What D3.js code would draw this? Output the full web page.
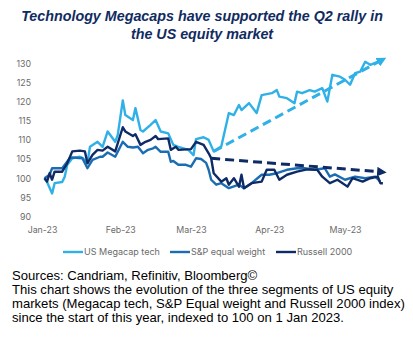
<!doctype html>
<html>
  <head>
    <meta charset="utf-8">
    <title>US equity segments 2023</title>
    <script src="https://cdnjs.cloudflare.com/ajax/libs/d3/7.8.5/d3.min.js"></script>
    <style>
      body { margin: 0; background: #fff; }
      svg { display: block; }
    </style>
  </head>
  <body>
    <div id="chart"></div>
    <script>
      // index levels, 1 Jan 2023 = 100
      const megacap = [
        ["2023-01-02", 100], ["2023-01-03", 99], ["2023-01-05", 96], ["2023-01-06", 98.7],
        ["2023-01-09", 99], ["2023-01-10", 100.4], ["2023-01-11", 103.5], ["2023-01-13", 105.2],
        ["2023-01-16", 105.6], ["2023-01-17", 105.3], ["2023-01-19", 104], ["2023-01-20", 108.2],
        ["2023-01-23", 109.5], ["2023-01-25", 108.2], ["2023-01-27", 112.2], ["2023-01-30", 109.5],
        ["2023-01-31", 111.3], ["2023-02-02", 120.3], ["2023-02-03", 116.5], ["2023-02-06", 115.2],
        ["2023-02-07", 118.3], ["2023-02-09", 112.6], ["2023-02-10", 112.2], ["2023-02-13", 113.9],
        ["2023-02-15", 115.2], ["2023-02-17", 112.2], ["2023-02-20", 111.7], ["2023-02-22", 108.7],
        ["2023-02-24", 108.2], ["2023-02-28", 107.4], ["2023-03-02", 106], ["2023-03-03", 110.2],
        ["2023-03-06", 110.7], ["2023-03-08", 110], ["2023-03-10", 107], ["2023-03-13", 108.3],
        ["2023-03-16", 117], ["2023-03-18", 116.5], ["2023-03-20", 119.1], ["2023-03-21", 117.8],
        ["2023-03-24", 119.6], ["2023-03-27", 117], ["2023-03-29", 121.7], ["2023-04-02", 122.2],
        ["2023-04-04", 123], ["2023-04-05", 121.3], ["2023-04-08", 120.9], ["2023-04-11", 119.6],
        ["2023-04-12", 122.6], ["2023-04-14", 122.2], ["2023-04-17", 123], ["2023-04-19", 122.6],
        ["2023-04-22", 123.5], ["2023-04-24", 120], ["2023-04-26", 127], ["2023-04-29", 126.5],
        ["2023-05-01", 125.7], ["2023-05-03", 124.4], ["2023-05-05", 127.4], ["2023-05-07", 127.8],
        ["2023-05-09", 130.4], ["2023-05-11", 129.6], ["2023-05-14", 130.4], ["2023-05-15", 131]
      ];

      const spEqual = [
        ["2023-01-02", 100], ["2023-01-04", 100.9], ["2023-01-05", 102.6], ["2023-01-09", 102.6],
        ["2023-01-12", 105.2], ["2023-01-13", 105.4], ["2023-01-17", 105.2], ["2023-01-19", 102.6],
        ["2023-01-21", 104.8], ["2023-01-24", 105.6], ["2023-01-25", 105.6], ["2023-01-27", 106.7],
        ["2023-01-30", 105.6], ["2023-02-02", 109.5], ["2023-02-04", 108.2], ["2023-02-06", 108],
        ["2023-02-08", 108.2], ["2023-02-10", 106.5], ["2023-02-12", 107.4], ["2023-02-14", 107.8],
        ["2023-02-15", 108.2], ["2023-02-17", 106.9], ["2023-02-20", 106.9], ["2023-02-21", 104.3],
        ["2023-02-22", 104.5], ["2023-02-24", 103.5], ["2023-02-27", 103.5], ["2023-03-01", 103],
        ["2023-03-03", 105.2], ["2023-03-05", 105], ["2023-03-07", 104], ["2023-03-08", 102.2],
        ["2023-03-09", 99.6], ["2023-03-11", 98.3], ["2023-03-13", 98.7], ["2023-03-16", 97.4],
        ["2023-03-20", 98.3], ["2023-03-22", 97.4], ["2023-03-25", 98.7], ["2023-03-29", 100.9],
        ["2023-04-01", 100.9], ["2023-04-04", 101.3], ["2023-04-08", 102.2], ["2023-04-12", 102.6],
        ["2023-04-15", 102.6], ["2023-04-19", 102.2], ["2023-04-23", 102.6], ["2023-04-25", 100.4],
        ["2023-04-27", 101], ["2023-05-01", 99.6], ["2023-05-05", 100.4], ["2023-05-09", 100],
        ["2023-05-13", 100.4], ["2023-05-15", 99.1]
      ];

      const russell = [
        ["2023-01-02", 100], ["2023-01-03", 99.1], ["2023-01-04", 101.3], ["2023-01-05", 99.6],
        ["2023-01-06", 101.7], ["2023-01-09", 101.7], ["2023-01-11", 103.9], ["2023-01-13", 107],
        ["2023-01-16", 107.2], ["2023-01-18", 107], ["2023-01-19", 103.9], ["2023-01-21", 106.1],
        ["2023-01-23", 107.4], ["2023-01-25", 107.2], ["2023-01-27", 108.2], ["2023-01-30", 107],
        ["2023-02-02", 113.3], ["2023-02-03", 112.2], ["2023-02-06", 111], ["2023-02-07", 111.5],
        ["2023-02-09", 108.7], ["2023-02-11", 109.5], ["2023-02-13", 110], ["2023-02-15", 111],
        ["2023-02-16", 110.2], ["2023-02-20", 110.4], ["2023-02-21", 107.4], ["2023-02-23", 108.2],
        ["2023-02-24", 107.4], ["2023-03-01", 107.6], ["2023-03-03", 109.5], ["2023-03-06", 108.7],
        ["2023-03-08", 106.5], ["2023-03-09", 105.2], ["2023-03-10", 101.3], ["2023-03-13", 99.1],
        ["2023-03-15", 100], ["2023-03-16", 98.3], ["2023-03-18", 100], ["2023-03-20", 97.8],
        ["2023-03-21", 100.9], ["2023-03-22", 97.4], ["2023-03-25", 98.7], ["2023-03-29", 99.1],
        ["2023-03-31", 102.2], ["2023-04-03", 102.2], ["2023-04-05", 99.6], ["2023-04-08", 100.9],
        ["2023-04-12", 101.7], ["2023-04-16", 102.3], ["2023-04-20", 102.2], ["2023-04-22", 100.4],
        ["2023-04-25", 98.7], ["2023-04-28", 99.6], ["2023-05-02", 97.8], ["2023-05-04", 100],
        ["2023-05-08", 99.1], ["2023-05-11", 100], ["2023-05-14", 100.4], ["2023-05-15", 98.7],
        ["2023-05-16", 98.7]
      ];

      // dashed trend arrows: [start, end]
      const megacapTrend = [["2023-03-10", 107], ["2023-05-16", 131]];
      const russellTrend = [["2023-03-09", 105.2], ["2023-05-16", 101.6]];

      const yTicks = [90, 95, 100, 105, 110, 115, 120, 125, 130];
      const monthTicks = ["2023-01-01", "2023-02-01", "2023-03-01", "2023-04-01", "2023-05-01"];

      const seriesNames = ["US Megacap tech", "S&P equal weight", "Russell 2000"];
      const seriesColors = ["#2fb0e6", "#1b6db3", "#0e2b66"];

      const title = ["Technology Megacaps have supported the Q2 rally in", "the US equity market"];
      const notes = [
        "Sources: Candriam, Refinitiv, Bloomberg©",
        "This chart shows the evolution of the three segments of US equity",
        "markets (Megacap tech, S&P Equal weight and Russell 2000 index)",
        "since the start of this year, indexed to 100 on 1 Jan 2023."
      ];

      const width = 413, height = 348;
      const parse = d3.timeParse("%Y-%m-%d");

      const svg = d3.select("#chart").append("svg")
        .attr("width", width)
        .attr("height", height);

      const x = d3.scaleTime()
        .domain([parse("2023-01-01"), parse("2023-05-01")])
        .range([42, 345]);

      const y = d3.scaleLinear()
        .domain([90, 130])
        .range([216.5, 63.3]);

      // title
      svg.append("g").selectAll("text")
        .data(title)
        .join("text")
        .attr("x", 202)
        .attr("y", (d, i) => 21 + i * 18)
        .attr("text-anchor", "middle")
        .style("font-family", "Liberation Sans, Arial, sans-serif")
        .style("font-weight", "bold")
        .style("font-style", "italic")
        .style("font-size", "14.3px")
        .style("fill", "#112b60")
        .text(d => d);

      // y axis labels
      const yAxis = svg.append("g")
        .attr("transform", "translate(31,0)")
        .call(d3.axisLeft(y).tickValues(yTicks).tickSize(0).tickPadding(0));
      yAxis.select(".domain").remove();

      // x axis labels
      const xAxis = svg.append("g")
        .attr("transform", "translate(0,227)")
        .call(d3.axisBottom(x)
          .tickValues(monthTicks.map(parse))
          .tickFormat(d3.timeFormat("%b-%y"))
          .tickSize(0).tickPadding(0));
      xAxis.select(".domain").remove();

      svg.selectAll(".tick text")
        .style("font-family", "Inter, Noto Sans, sans-serif")
        .style("font-size", "8.8px")
        .style("fill", "#6b6b6b");

      const line = d3.line()
        .x(d => x(parse(d[0])))
        .y(d => y(d[1]));

      const series = [megacap, spEqual, russell];
      svg.append("g").selectAll("path")
        .data(series)
        .join("path")
        .attr("d", line)
        .attr("fill", "none")
        .attr("stroke", (d, i) => seriesColors[i])
        .attr("stroke-width", 2.4)
        .attr("stroke-linejoin", "round");

      // arrowheads for the trend lines
      const defs = svg.append("defs");
      [["arrow-mega", seriesColors[0]], ["arrow-russell", seriesColors[2]]].forEach(([id, col]) => {
        defs.append("marker")
          .attr("id", id)
          .attr("viewBox", "0 0 10 10")
          .attr("refX", 6)
          .attr("refY", 5)
          .attr("markerWidth", 3.2)
          .attr("markerHeight", 3.2)
          .attr("orient", "auto")
          .append("path")
          .attr("d", "M0,0 L10,5 L0,10 z")
          .attr("fill", col);
      });

      svg.append("path")
        .datum(megacapTrend)
        .attr("d", line)
        .attr("fill", "none")
        .attr("stroke", seriesColors[0])
        .attr("stroke-width", 3)
        .attr("stroke-dasharray", "9,5")
        .attr("marker-end", "url(#arrow-mega)");

      svg.append("path")
        .datum(russellTrend)
        .attr("d", line)
        .attr("fill", "none")
        .attr("stroke", seriesColors[2])
        .attr("stroke-width", 3)
        .attr("stroke-dasharray", "9,5")
        .attr("marker-end", "url(#arrow-russell)");

      // legend
      const legendX = [63, 170, 276];
      const legend = svg.append("g").selectAll("g")
        .data(seriesNames)
        .join("g")
        .attr("transform", (d, i) => `translate(${legendX[i]},252)`);
      legend.append("line")
        .attr("x1", 0).attr("x2", 20)
        .attr("stroke", (d, i) => seriesColors[i])
        .attr("stroke-width", 2.4);
      legend.append("text")
        .attr("x", 21)
        .attr("dy", "0.35em")
        .style("font-family", "Inter, Noto Sans, sans-serif")
        .style("font-size", "9px")
        .style("fill", "#6b6b6b")
        .text(d => d);

      // footnote
      svg.append("g").selectAll("text")
        .data(notes)
        .join("text")
        .attr("x", 12)
        .attr("y", (d, i) => 279.5 + i * 14.3)
        .style("font-family", "Liberation Sans, Arial, sans-serif")
        .style("font-size", "13.1px")
        .style("fill", "#000")
        .text(d => d);
    </script>
  </body>
</html>
